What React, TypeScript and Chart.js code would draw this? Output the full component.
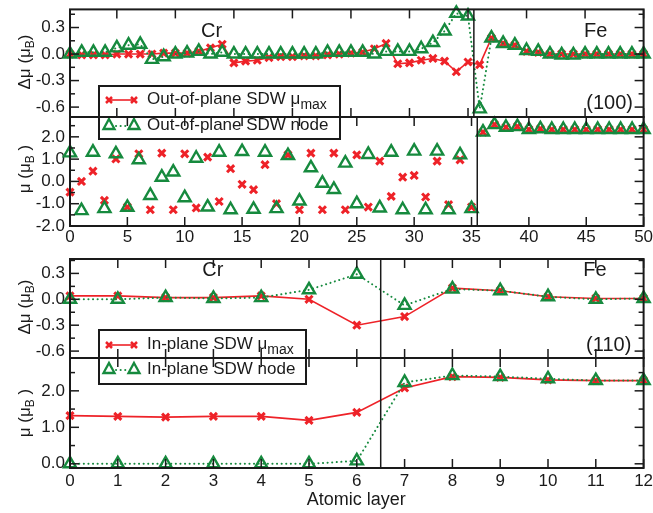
import React, { useEffect, useRef } from 'react';
import { Chart, registerables } from 'chart.js';

Chart.register(...registerables);

const FONT = '"Liberation Sans", Arial, Helvetica, sans-serif';
const RED = '#ee2228';
const GREEN = '#168a3e';
const INK = '#1a1a1a';

// ---------- (100) interface, upper panel: Δμ, layers 1..50 ----------
const layers100Top = [
  1, 2, 3, 4, 5, 6, 7, 8, 9, 10, 11, 12, 13, 14, 15, 16, 17, 18, 19, 20, 21, 22, 23, 24, 25,
  26, 27, 28, 29, 30, 31, 32, 33, 34, 35, 36, 37, 38, 39, 40, 41, 42, 43, 44, 45, 46, 47, 48, 49, 50,
];
const dMuMax100 = [
  0.0, -0.01, -0.01, -0.01, 0.0, 0.0, 0.0, 0.0, 0.01, 0.01, 0.01, 0.03, 0.07, 0.11, -0.1, -0.08, -0.07,
  -0.04, -0.03, -0.03, -0.02, -0.02, -0.01, 0.0, 0.01, 0.02, 0.06, 0.12, -0.11, -0.1, -0.07, -0.05, -0.08,
  -0.2, -0.09, -0.12, 0.18, 0.12, 0.1, 0.03, 0.02, 0.0, 0.0, 0.0, 0.0, 0.0, 0.0, 0.0, 0.0, 0.0,
];
const dMuNode100 = [
  0.0, 0.02, 0.02, 0.02, 0.07, 0.1, 0.11, -0.06, -0.03, 0.0, 0.01, 0.03, 0.0, 0.02, 0.0, 0.0, 0.0,
  0.0, 0.0, 0.0, 0.0, 0.0, 0.02, 0.02, 0.02, 0.02, 0.0, 0.03, 0.03, 0.03, 0.06, 0.13, 0.26,
  0.46, 0.43, -0.62, 0.18, 0.12, 0.1, 0.04, 0.03, 0.0, -0.01, -0.01, 0.0, 0.0, 0.0, 0.0, 0.0, 0.0,
];

// ---------- (100) lower panel: μ, layers 0..50 ----------
const layers100 = [
  0, 1, 2, 3, 4, 5, 6, 7, 8, 9, 10, 11, 12, 13, 14, 15, 16, 17, 18, 19, 20, 21, 22, 23, 24, 25,
  26, 27, 28, 29, 30, 31, 32, 33, 34, 35, 36, 37, 38, 39, 40, 41, 42, 43, 44, 45, 46, 47, 48, 49, 50,
];
const muMax100 = [
  -0.48, 0.0, 0.46, -0.85, 1.01, -1.15, 1.24, -1.27, 1.27, -1.27, 1.24, -1.19, 1.09, -0.9, 0.57, -0.13,
  -0.37, 0.75, -1.0, 1.19, -1.27, 1.27, -1.27, 1.27, -1.27, 1.19, -1.15, 0.91, -0.67, 0.19, 0.27, -0.7,
  0.91, -1.04, 0.97, -1.15, 2.21, 2.55, 2.43, 2.46, 2.33, 2.36, 2.33, 2.33, 2.33, 2.33, 2.33, 2.33, 2.33,
  2.33, 2.33,
];
const muNode100 = [
  1.28, -1.31, 1.31, -1.22, 1.24, -1.16, 0.97, -0.63, 0.19, 0.42, -0.73, 1.04, -1.15, 1.31, -1.27, 1.34,
  -1.25, 1.31, -1.22, 1.16, -0.88, 0.61, -0.08, -0.36, 0.82, -1.0, 1.21, -1.19, 1.31, -1.27, 1.36, -1.27,
  1.36, -1.27, 1.19, -1.22, 2.21, 2.55, 2.43, 2.46, 2.33, 2.36, 2.33, 2.33, 2.33, 2.33, 2.33, 2.33, 2.33,
  2.33, 2.33,
];

// ---------- (110) interface, layers 0..12 ----------
const layers110 = [0, 1, 2, 3, 4, 5, 6, 7, 8, 9, 10, 11, 12];
const dMuMax110 = [0.04, 0.04, 0.02, 0.02, 0.04, 0.0, -0.3, -0.2, 0.13, 0.1, 0.03, 0.01, 0.01];
const dMuNode110 = [0.0, 0.0, 0.02, 0.01, 0.02, 0.11, 0.29, -0.07, 0.12, 0.1, 0.03, 0.0, 0.01];
const muMax110 = [1.32, 1.3, 1.28, 1.3, 1.3, 1.19, 1.41, 2.08, 2.39, 2.37, 2.3, 2.28, 2.28];
const muNode110 = [0.0, 0.0, 0.0, 0.0, 0.0, 0.0, 0.08, 2.23, 2.42, 2.39, 2.33, 2.28, 2.28];

// ---------- ticks ----------
const xTicks100Top = [5, 10, 15, 20, 25, 30, 35, 40, 45, 50];
const xTicks100 = [0, 5, 10, 15, 20, 25, 30, 35, 40, 45, 50];
const xTicks110 = [0, 1, 2, 3, 4, 5, 6, 7, 8, 9, 10, 11, 12];
const dMuTicks = [-0.6, -0.3, 0.0, 0.3];
const dMuMinor = [-0.45, -0.15, 0.15, 0.45];
const muTicks100 = [-2, -1, 0, 1, 2];
const muMinor100 = [-1.5, -0.5, 0.5, 1.5, 2.5];
const muTicks110 = [0, 1, 2];
const muMinor110 = [0.5, 1.5, 2.5];

type Part = { t: string; sub?: boolean };
type Note = { text: string; x: number; y: number };
type LegendRow = { kind: 'red' | 'green'; parts: Part[]; sampleY: number; baseY: number };
type LegendSpec = { x: number; y: number; w: number; h: number; rows: LegendRow[] };
type Panel = {
  top: number;
  bottom: number;
  xAxisH: number;
  xMin: number;
  xMax: number;
  xTicks: number[];
  showXLabels: boolean;
  xLabelPad: number;
  yMin: number;
  yMax: number;
  yTicks: number[];
  yMinor: number[];
  xs: number[];
  red: number[];
  green: number[];
  lines: boolean;
  divider: number;
  yTitle: { parts: Part[]; cy: number };
  notes: Note[];
  legend?: LegendSpec;
  xTitle?: string;
};

const DMU_TITLE: Part[] = [{ t: 'Δμ (μ' }, { t: 'B', sub: true }, { t: ')' }];
const MU_TITLE: Part[] = [{ t: 'μ (μ' }, { t: 'B', sub: true }, { t: ' )' }];

const PANELS: Panel[] = [
  {
    top: 6, bottom: 117, xAxisH: 0,
    xMin: 1, xMax: 50, xTicks: xTicks100Top, showXLabels: false, xLabelPad: 0,
    yMin: -0.712, yMax: 0.505, yTicks: dMuTicks, yMinor: dMuMinor,
    xs: layers100Top, red: dMuMax100, green: dMuNode100, lines: true, divider: 35.5,
    yTitle: { parts: DMU_TITLE, cy: 62 },
    notes: [
      { text: 'Cr', x: 13.1, y: 0.256 },
      { text: 'Fe', x: 45.9, y: 0.256 },
      { text: '(100)', x: 47.1, y: -0.556 },
    ],
    legend: {
      x: 99, y: 86, w: 241, h: 53,
      rows: [
        { kind: 'red', parts: [{ t: 'Out-of-plane SDW μ' }, { t: 'max', sub: true }], sampleY: 100, baseY: 104 },
        { kind: 'green', parts: [{ t: 'Out-of-plane SDW node' }], sampleY: 125, baseY: 129.5 },
      ],
    },
  },
  {
    top: 117, bottom: 226, xAxisH: 30,
    xMin: 0, xMax: 50, xTicks: xTicks100, showXLabels: true, xLabelPad: 1,
    yMin: -2.0, yMax: 2.89, yTicks: muTicks100, yMinor: muMinor100,
    xs: layers100, red: muMax100, green: muNode100, lines: false, divider: 35.5,
    yTitle: { parts: MU_TITLE, cy: 169 },
    notes: [],
  },
  {
    top: 259, bottom: 358, xAxisH: 0,
    xMin: 0, xMax: 12, xTicks: xTicks110, showXLabels: false, xLabelPad: 0,
    yMin: -0.68, yMax: 0.467, yTicks: dMuTicks, yMinor: dMuMinor,
    xs: layers110, red: dMuMax110, green: dMuNode110, lines: true, divider: 6.5,
    yTitle: { parts: DMU_TITLE, cy: 307 },
    notes: [
      { text: 'Cr', x: 2.99, y: 0.33 },
      { text: 'Fe', x: 10.98, y: 0.33 },
      { text: '(110)', x: 11.27, y: -0.53 },
    ],
    legend: {
      x: 99, y: 330, w: 207, h: 54,
      rows: [
        { kind: 'red', parts: [{ t: 'In-plane SDW μ' }, { t: 'max', sub: true }], sampleY: 345, baseY: 349 },
        { kind: 'green', parts: [{ t: 'In-plane SDW node' }], sampleY: 369, baseY: 374 },
      ],
    },
  },
  {
    top: 358, bottom: 468, xAxisH: 40,
    xMin: 0, xMax: 12, xTicks: xTicks110, showXLabels: true, xLabelPad: 3,
    yMin: -0.115, yMax: 2.9, yTicks: muTicks110, yMinor: muMinor110,
    xs: layers110, red: muMax110, green: muNode110, lines: true, divider: 6.5,
    yTitle: { parts: MU_TITLE, cy: 413 },
    notes: [],
    xTitle: 'Atomic layer',
  },
];

function drawRich(ctx: CanvasRenderingContext2D, parts: Part[], x: number, y: number, size: number, subSize: number, subDrop: number, align: 'left' | 'center') {
  const widths = parts.map((p) => {
    ctx.font = `${p.sub ? subSize : size}px ${FONT}`;
    return ctx.measureText(p.t).width;
  });
  const total = widths.reduce((s, w) => s + w, 0);
  let cx = align === 'center' ? x - total / 2 : x;
  ctx.textAlign = 'left';
  ctx.textBaseline = 'alphabetic';
  parts.forEach((p, i) => {
    ctx.font = `${p.sub ? subSize : size}px ${FONT}`;
    ctx.fillText(p.t, cx, p.sub ? y + subDrop : y);
    cx += widths[i];
  });
}

function drawCross(ctx: CanvasRenderingContext2D, x: number, y: number, r: number) {
  ctx.beginPath();
  ctx.moveTo(x - r, y - r);
  ctx.lineTo(x + r, y + r);
  ctx.moveTo(x - r, y + r);
  ctx.lineTo(x + r, y - r);
  ctx.stroke();
}

function drawTri(ctx: CanvasRenderingContext2D, x: number, y: number, s: number) {
  ctx.beginPath();
  ctx.moveTo(x, y - s * 0.6);
  ctx.lineTo(x + s * 0.55, y + s * 0.4);
  ctx.lineTo(x - s * 0.55, y + s * 0.4);
  ctx.closePath();
  ctx.stroke();
}

function drawLegend(ctx: CanvasRenderingContext2D, lg: LegendSpec) {
  ctx.save();
  ctx.fillStyle = '#ffffff';
  ctx.fillRect(lg.x, lg.y, lg.w, lg.h);
  ctx.strokeStyle = INK;
  ctx.lineWidth = 2;
  ctx.strokeRect(lg.x, lg.y, lg.w, lg.h);
  const x1 = lg.x + 10;
  const x2 = lg.x + 35;
  for (const row of lg.rows) {
    if (row.kind === 'red') {
      ctx.strokeStyle = RED;
      ctx.lineWidth = 1.6;
      ctx.setLineDash([]);
      ctx.beginPath();
      ctx.moveTo(x1, row.sampleY);
      ctx.lineTo(x2, row.sampleY);
      ctx.stroke();
      ctx.lineWidth = 2.5;
      drawCross(ctx, x1, row.sampleY, 3);
      drawCross(ctx, x2, row.sampleY, 3);
    } else {
      ctx.strokeStyle = GREEN;
      ctx.lineWidth = 2;
      ctx.lineCap = 'round';
      ctx.setLineDash([0.1, 4.5]);
      ctx.beginPath();
      ctx.moveTo(x1 + 7, row.sampleY + 1);
      ctx.lineTo(x2 - 6, row.sampleY + 1);
      ctx.stroke();
      ctx.setLineDash([]);
      ctx.lineCap = 'butt';
      ctx.lineWidth = 2.3;
      drawTri(ctx, x1, row.sampleY, 10);
      drawTri(ctx, x2, row.sampleY, 10);
    }
    ctx.fillStyle = INK;
    drawRich(ctx, row.parts, lg.x + 48, row.baseY, 17, 14, 5, 'left');
  }
  ctx.restore();
}

function decoPlugin(p: Panel) {
  return {
    id: 'panelDeco',
    afterDatasetsDraw(chart: any) {
      const ctx: CanvasRenderingContext2D = chart.ctx;
      const a = chart.chartArea;
      const xs = chart.scales.x;
      const ys = chart.scales.y;
      ctx.save();
      // interface divider
      const dx = xs.getPixelForValue(p.divider);
      ctx.strokeStyle = INK;
      ctx.lineWidth = 1.5;
      ctx.beginPath();
      ctx.moveTo(dx, a.top);
      ctx.lineTo(dx, a.bottom);
      ctx.stroke();
      // notes
      ctx.fillStyle = INK;
      ctx.font = `20px ${FONT}`;
      ctx.textAlign = 'center';
      ctx.textBaseline = 'middle';
      for (const n of p.notes) ctx.fillText(n.text, xs.getPixelForValue(n.x), ys.getPixelForValue(n.y));
      // y title
      ctx.save();
      ctx.translate(30, p.yTitle.cy);
      ctx.rotate(-Math.PI / 2);
      ctx.fillStyle = INK;
      drawRich(ctx, p.yTitle.parts, 0, 0, 17, 12, 4, 'center');
      ctx.restore();
      // legend
      if (p.legend) drawLegend(ctx, p.legend);
      // frame
      ctx.strokeStyle = INK;
      ctx.lineWidth = 2;
      ctx.strokeRect(a.left, a.top, a.right - a.left, a.bottom - a.top);
      // ticks
      ctx.lineWidth = 1.5;
      const seg = (x1: number, y1: number, x2: number, y2: number) => {
        ctx.beginPath();
        ctx.moveTo(x1, y1);
        ctx.lineTo(x2, y2);
        ctx.stroke();
      };
      const MAJ = 9;
      const MIN = 5;
      for (const v of p.xTicks) {
        const px = xs.getPixelForValue(v);
        seg(px, a.top, px, a.top + MAJ);
        seg(px, a.bottom, px, a.bottom - MAJ);
      }
      for (const v of p.yTicks) {
        const py = ys.getPixelForValue(v);
        seg(a.left, py, a.left + MAJ, py);
        seg(a.right, py, a.right - MAJ, py);
      }
      for (const v of p.yMinor) {
        const py = ys.getPixelForValue(v);
        if (py < a.top || py > a.bottom) continue;
        seg(a.left, py, a.left + MIN, py);
        seg(a.right, py, a.right - MIN, py);
      }
      // x title
      if (p.xTitle) {
        ctx.fillStyle = INK;
        ctx.font = `18px ${FONT}`;
        ctx.textAlign = 'center';
        ctx.textBaseline = 'alphabetic';
        ctx.fillText(p.xTitle, (a.left + a.right) / 2 - 0.5, 505);
      }
      ctx.restore();
    },
  };
}

function buildConfig(p: Panel): any {
  const pts = (vals: number[]) => p.xs.map((x, i) => ({ x, y: vals[i] }));
  return {
    type: 'scatter',
    data: {
      datasets: [
        {
          label: 'node',
          data: pts(p.green),
          showLine: p.lines,
          borderColor: GREEN,
          backgroundColor: 'rgba(255,255,255,0)',
          borderWidth: 2,
          borderDash: [0.1, 4.5],
          borderCapStyle: 'round',
          pointStyle: 'triangle',
          pointRadius: 7,
          pointBorderWidth: 2.4,
          pointBorderColor: GREEN,
          pointBackgroundColor: 'rgba(255,255,255,0)',
          clip: false,
        },
        {
          label: 'max',
          data: pts(p.red),
          showLine: p.lines,
          borderColor: RED,
          backgroundColor: RED,
          borderWidth: 1.6,
          pointStyle: 'crossRot',
          pointRadius: 5,
          pointBorderWidth: 3,
          pointBorderColor: RED,
          clip: false,
        },
      ],
    },
    options: {
      responsive: false,
      animation: false,
      devicePixelRatio: 1,
      events: [],
      layout: { padding: { left: 0, right: 8, top: p.top, bottom: 513 - p.bottom - p.xAxisH } },
      plugins: { legend: { display: false }, tooltip: { enabled: false }, title: { display: false } },
      scales: {
        x: {
          type: 'linear',
          position: 'bottom',
          min: p.xMin,
          max: p.xMax,
          afterBuildTicks: (s: any) => {
            s.ticks = p.xTicks.map((v) => ({ value: v }));
          },
          ticks: {
            display: p.showXLabels,
            autoSkip: false,
            maxRotation: 0,
            minRotation: 0,
            padding: p.xLabelPad,
            color: INK,
            font: { family: FONT, size: 17 },
            callback: (v: any) => String(v),
          },
          grid: { display: false, drawTicks: false },
          border: { display: false },
          afterFit: (s: any) => {
            s.height = p.xAxisH;
            s.paddingLeft = 0;
            s.paddingRight = 0;
          },
        },
        y: {
          type: 'linear',
          position: 'left',
          min: p.yMin,
          max: p.yMax,
          afterBuildTicks: (s: any) => {
            s.ticks = p.yTicks.map((v) => ({ value: v }));
          },
          ticks: {
            padding: 5,
            color: INK,
            font: { family: FONT, size: 17 },
            callback: (v: any) => Number(v).toFixed(1),
          },
          grid: { display: false, drawTicks: false },
          border: { display: false },
          afterFit: (s: any) => {
            s.width = 70;
            s.paddingTop = 0;
            s.paddingBottom = 0;
          },
        },
      },
    },
    plugins: [decoPlugin(p)],
  };
}

export default function App() {
  const canvases = useRef<(HTMLCanvasElement | null)[]>([]);
  useEffect(() => {
    const charts = PANELS.map((p, i) => new Chart(canvases.current[i] as HTMLCanvasElement, buildConfig(p)));
    return () => charts.forEach((c) => c.destroy());
  }, []);
  return (
    <div style={{ position: 'absolute', left: 0, top: 0, width: 653, height: 513, background: '#ffffff', overflow: 'hidden' }}>
      {PANELS.map((_, i) => (
        <canvas
          key={i}
          ref={(el) => {
            canvases.current[i] = el;
          }}
          width={653}
          height={513}
          style={{ position: 'absolute', left: 0, top: 0 }}
        />
      ))}
    </div>
  );
}
